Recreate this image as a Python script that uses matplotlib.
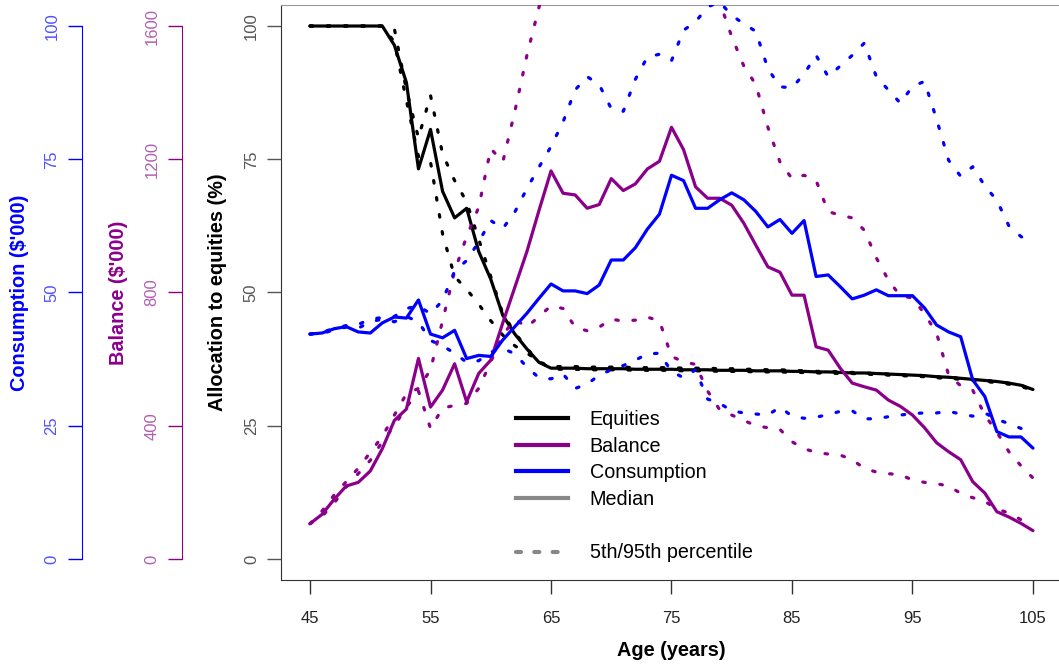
import matplotlib
matplotlib.use('Agg')
import matplotlib.pyplot as plt
from matplotlib.lines import Line2D

plt.rcParams['font.family'] = ['Liberation Sans', 'DejaVu Sans']

ages = list(range(45, 106))

# allocation to equities (%)
equities_med = [100, 100, 100, 100, 100, 100, 100, 96.4, 89.4, 73.2,
                80.6, 69.0, 64.0, 65.8, 57.7, 52.5, 45.7, 42.2, 39.4, 36.9,
                35.8, 35.8, 35.8, 35.7, 35.7, 35.7, 35.7, 35.6, 35.6, 35.6,
                35.6, 35.5, 35.5, 35.5, 35.4, 35.4, 35.4, 35.3, 35.3, 35.3,
                35.2, 35.2, 35.1, 35.1, 35.0, 34.9, 34.9, 34.8, 34.7, 34.6,
                34.5, 34.4, 34.2, 34.1, 33.9, 33.7, 33.5, 33.3, 33.0, 32.6, 31.8]
equities_hi = [100, 100, 100, 100, 100, 100, 100, 99.5, 88.0, 79.0,
               87.0, 76.0, 71.0, 67.0, 60.0, 53.0, 46.0, 42.5, 39.5, 37.0,
               36.1, 36.1, 36.1, 36.0, 36.0, 36.0, 36.0, 35.9, 35.9, 35.9,
               35.9, 35.8, 35.8, 35.8, 35.7, 35.7, 35.6, 35.6, 35.5, 35.5,
               35.4, 35.3, 35.2, 35.2, 35.1, 35.0, 34.9, 34.8, 34.7, 34.6,
               34.5, 34.4, 34.2, 34.1, 33.9, 33.7, 33.5, 33.3, 33.0, 32.6, 31.8]
equities_lo = [100, 100, 100, 100, 100, 100, 100, 97.0, 86.0, 75.5,
               74.5, 61.0, 53.0, 50.6, 47.8, 44.7, 42.0, 40.0, 38.6, 37.2,
               35.6, 35.6, 35.6, 35.5, 35.5, 35.5, 35.5, 35.4, 35.4, 35.4,
               35.4, 35.3, 35.3, 35.3, 35.2, 35.2, 35.2, 35.1, 35.1, 35.1,
               35.0, 35.0, 34.9, 34.9, 34.8, 34.8, 34.7, 34.6, 34.5, 34.4,
               34.3, 34.2, 34.0, 33.9, 33.7, 33.5, 33.3, 33.1, 32.8, 32.4, 31.6]

# balance ($'000)
balance_med = [106, 134, 179, 219, 230, 264, 331, 416, 450, 602,
               456, 507, 586, 472, 557, 597, 709, 816, 923, 1046,
               1165, 1098, 1093, 1053, 1064, 1142, 1106, 1126, 1171, 1194,
               1296, 1229, 1117, 1083, 1083, 1062, 1008, 942, 877, 861,
               792, 792, 637, 627, 573, 528, 517, 507, 477, 458,
               432, 394, 349, 322, 298, 232, 198, 142, 126, 107, 85]
balance_hi = [106, 144, 192, 232, 272, 320, 368, 432, 496, 512,
              568, 715, 864, 968, 1056, 1232, 1192, 1344, 1512, 1656,
              1792, 1888, 1952, 2000, 2016, 2048, 2048, 2032, 2000, 1952,
              1920, 1856, 1792, 1728, 1672, 1568, 1480, 1424, 1296, 1192,
              1142, 1152, 1136, 1043, 1032, 1024, 987, 904, 837, 789,
              784, 736, 678, 552, 520, 507, 432, 381, 322, 280, 243]
balance_lo = [106, 128, 168, 216, 256, 296, 352, 400, 456, 504,
              392, 453, 461, 467, 512, 592, 672, 720, 696, 728,
              760, 752, 696, 685, 696, 720, 714, 717, 726, 715,
              608, 592, 584, 504, 448, 432, 416, 400, 394, 389,
              352, 331, 320, 315, 312, 298, 272, 261, 256, 253,
              237, 230, 226, 219, 197, 184, 173, 150, 138, 118, 96]

# consumption ($'000)
consumption_med = [42.2, 42.4, 43.2, 43.6, 42.6, 42.4, 44.3, 45.4, 45.2, 48.6,
                   42.2, 41.5, 42.9, 37.6, 38.2, 38.0, 41.1, 43.6, 46.1, 48.9,
                   51.6, 50.3, 50.3, 49.8, 51.4, 56.1, 56.1, 58.4, 61.9, 64.7,
                   72.0, 71.0, 65.8, 65.8, 67.4, 68.7, 67.4, 65.2, 62.3, 63.7,
                   61.1, 63.5, 53.0, 53.3, 51.1, 48.8, 49.5, 50.5, 49.4, 49.4,
                   49.4, 47.1, 43.9, 42.6, 41.7, 33.6, 30.5, 23.9, 22.9, 22.9, 20.8]
consumption_hi = [42.2, 42.6, 43.2, 43.8, 44.0, 45.0, 45.3, 45.5, 47.0, 47.5,
                  46.0, 48.5, 54.0, 56.0, 59.5, 63.5, 62.0, 65.1, 69.5, 73.5,
                  77.4, 82.0, 88.0, 90.5, 89.0, 84.5, 84.0, 90.0, 94.2, 94.7,
                  93.5, 99.2, 100.8, 103.6, 104.5, 102.0, 100.4, 99.0, 92.0, 88.6,
                  88.4, 91.0, 94.5, 90.5, 92.5, 94.5, 96.8, 90.5, 88.0, 85.5,
                  88.7, 89.6, 82.5, 74.8, 71.8, 73.6, 70.0, 67.3, 62.5, 60.5, 59.3]
consumption_lo = [42.2, 42.3, 43.0, 43.5, 43.3, 44.5, 45.0, 44.5, 45.5, 44.5,
                  41.0, 40.0, 38.6, 36.9, 37.2, 38.8, 39.5, 38.5, 36.0, 34.0,
                  33.8, 34.7, 32.0, 32.8, 34.5, 35.5, 36.3, 37.3, 38.5, 38.6,
                  35.2, 34.0, 35.5, 30.0, 29.2, 27.8, 27.4, 27.2, 27.0, 28.5,
                  26.8, 26.4, 26.6, 27.1, 27.7, 27.8, 26.3, 26.3, 26.7, 27.0,
                  27.3, 27.4, 27.4, 27.7, 27.2, 26.8, 27.4, 26.2, 25.4, 24.5, 23.8]

age_ticks = [45, 55, 65, 75, 85, 95, 105]
eq_ticks = [0, 25, 50, 75, 100]
bal_ticks = [0, 400, 800, 1200, 1600]
con_ticks = [0, 25, 50, 75, 100]

purple = '#8B008B'
blue = '#0000FF'
dots = (0, (0.8, 4.6))

W, H = 1059, 669
fig = plt.figure(figsize=(W / 100, H / 100), dpi=100)
pos = [281.1 / W, (H - 580.3) / H, 780.8 / W, 575.6 / H]
ax = fig.add_axes(pos)
ax_bal = fig.add_axes(pos, sharex=ax)
ax_con = fig.add_axes(pos, sharex=ax)

solid = dict(lw=2.3, solid_capstyle='round', solid_joinstyle='round')
dotted = dict(lw=2.3, linestyle=dots, dash_capstyle='round')

ax.plot(ages, equities_hi, color='black', **dotted)
ax.plot(ages, equities_lo, color='black', **dotted)
ax.plot(ages, equities_med, color='black', **solid)

ax_bal.plot(ages, balance_hi, color=purple, **dotted)
ax_bal.plot(ages, balance_lo, color=purple, **dotted)
ax_bal.plot(ages, balance_med, color=purple, **solid)

ax_con.plot(ages, consumption_hi, color=blue, **dotted)
ax_con.plot(ages, consumption_lo, color=blue, **dotted)
ax_con.plot(ages, consumption_med, color=blue, **solid)

ax.set_xlim(42.6, 107.4)
ax.set_ylim(-4, 104)
ax_bal.set_ylim(-64, 1664)
ax_con.set_ylim(-4, 104)

# main axes: box + equities axis
ax.set_xticks(age_ticks)
ax.tick_params(axis='x', length=10, width=1, color='#333333', pad=12,
               labelsize=12, labelcolor='#222222')
ax.set_yticks(eq_ticks, [str(t) for t in eq_ticks], rotation=90, va='center')
ax.tick_params(axis='y', length=10, width=1, color='#555555', pad=6,
               labelsize=12, labelcolor='#555555')
ax.spines['right'].set_visible(False)
ax.spines['top'].set_color('#999999')
for s in ['left', 'bottom']:
    ax.spines[s].set_color('#333333')

ax.set_xlabel('Age (years)', fontsize=14.3, fontweight='bold')
ax.xaxis.set_label_coords(0.5, (580.3 - 651) / 575.6)
ax.xaxis.label.set_va('center')
ax.set_ylabel('Allocation to equities (%)', fontsize=14.3, fontweight='bold')
ax.yaxis.set_label_coords((217.5 - 281.1) / 780.8, 0.5)
ax.yaxis.label.set_va('center')

# extra left axes
extra = [
    (ax_bal, bal_ticks, purple, '#b060b0', 181.7, 118.5, "Balance (\\$'000)", 1600),
    (ax_con, con_ticks, blue, '#5050ff', 81.7, 20.0, "Consumption (\\$'000)", 100),
]
for a, ticks, col, lcol, xspine, xlab, label, top in extra:
    a.patch.set_visible(False)
    a.xaxis.set_visible(False)
    for s in ['right', 'top', 'bottom']:
        a.spines[s].set_visible(False)
    a.spines['left'].set_position(('axes', (xspine - 281.1) / 780.8))
    a.spines['left'].set_bounds(0, top)
    a.spines['left'].set_color(col)
    a.set_yticks(ticks, [str(t) for t in ticks], rotation=90, va='center')
    a.tick_params(axis='y', length=10, width=1, color=col, pad=6,
                  labelsize=12, labelcolor=lcol)
    a.set_ylabel(label, fontsize=14.3, fontweight='bold', color=col)
    a.yaxis.set_label_coords((xlab - 281.1) / 780.8, 0.5)
    a.yaxis.label.set_va('center')

grey = '#888888'
handles = [
    Line2D([], [], color='black', lw=3),
    Line2D([], [], color=purple, lw=3),
    Line2D([], [], color=blue, lw=3),
    Line2D([], [], color=grey, lw=3),
    Line2D([], [], color='none'),
    Line2D([], [], color=grey, lw=3, linestyle=(0, (1.2, 3.2)), dash_capstyle='round'),
]
labels = ['Equities', 'Balance', 'Consumption', 'Median', ' ', '5th/95th percentile']
ax_con.legend(handles, labels, loc='upper left',
              bbox_to_anchor=(516 / W, (H - 410) / H), bbox_transform=fig.transFigure,
              frameon=False, borderpad=0, borderaxespad=0, handlelength=2.64,
              handletextpad=1.1, labelspacing=0.39, prop={'size': 14.2})

fig.savefig('out.png', dpi=100)
